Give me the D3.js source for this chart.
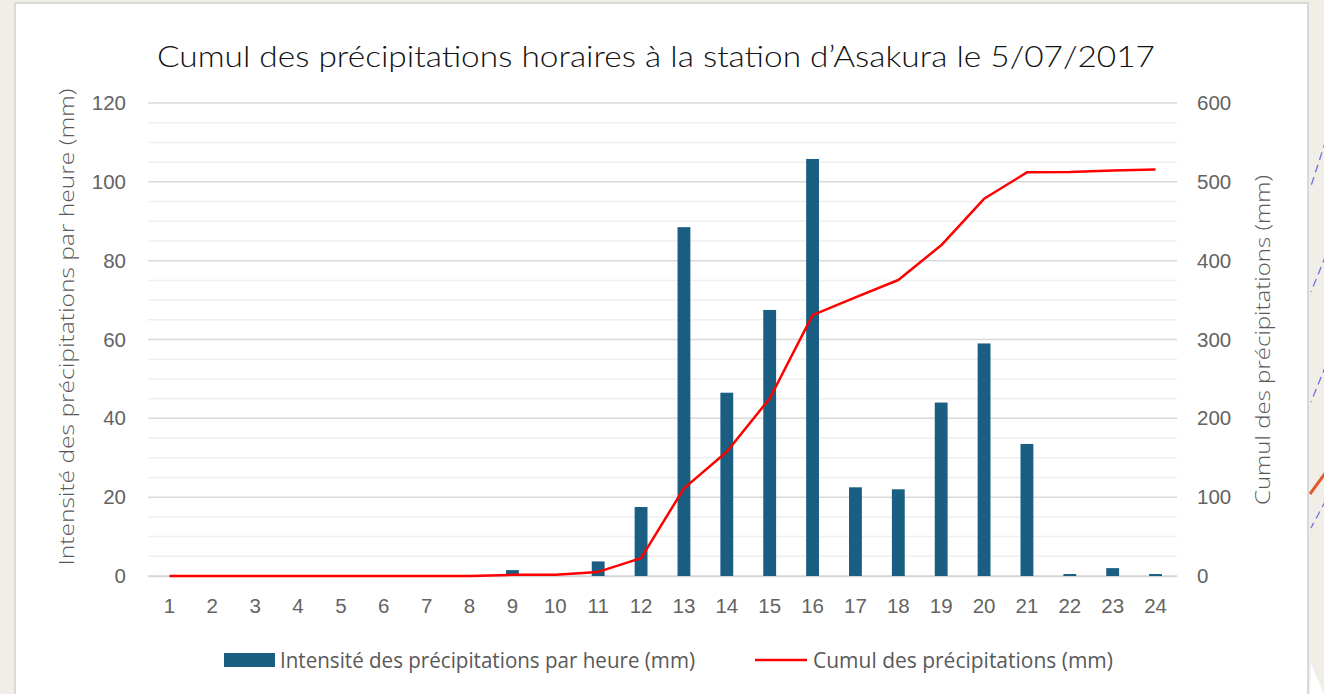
<!DOCTYPE html>
<html>
<head>
<meta charset="utf-8">
<script src="https://cdn.jsdelivr.net/npm/d3@7"></script>
<style>
  html, body { margin: 0; padding: 0; background: #f1eee8; }
  svg { display: block; }
</style>
</head>
<body>
<div id="chart"></div>
<script>
// heures de la journée
var hours = ["1","2","3","4","5","6","7","8","9","10","11","12","13","14","15","16","17","18","19","20","21","22","23","24"];
// intensité horaire (mm)
var intensity = [0,0,0,0,0,0,0,0,1.5,0,3.7,17.5,88.5,46.5,67.5,105.8,22.5,22,44,59,33.5,0.5,2,0.5];
// cumul (mm)
var cumul = [0,0,0,0,0,0,0,0,1.5,1.5,5.2,22.7,111.2,157.7,225.2,331,353.5,375.5,419.5,478.5,512,512.5,514.5,515.5];
var leftTicks = [0,20,40,60,80,100,120];
var rightTicks = [0,100,200,300,400,500,600];

var title = "Cumul des précipitations horaires à la station d’Asakura le 5/07/2017";
var leftTitle = "Intensité des précipitations par heure (mm)";
var rightTitle = "Cumul des précipitations (mm)";

var W = 1324, H = 694;
var plot = { left: 148, right: 1177, top: 103, bottom: 576 };
var grey = "#595959";
var barColor = "#1a5e81";

var svg = d3.select("#chart").append("svg")
    .attr("width", W)
    .attr("height", H);

// fond de page + décor à droite
svg.append("rect").attr("width", W).attr("height", H).attr("fill", "#f1eee8");
var decor = svg.append("g");
[[1326,140,1311,186],[1326,255,1311,292],[1326,365,1311,402],[1326,500,1311,528]].forEach(function (d) {
    decor.append("line")
        .attr("x1", d[0]).attr("y1", d[1]).attr("x2", d[2]).attr("y2", d[3])
        .attr("stroke", "#6f6fe8").attr("stroke-width", 1.3)
        .attr("stroke-dasharray", "8,5");
});
decor.append("line")
    .attr("x1", 1326).attr("y1", 472).attr("x2", 1310).attr("y2", 494)
    .attr("stroke", "#e8562a").attr("stroke-width", 3);
decor.append("path")
    .attr("d", "M1310,694 L1311,664 L1324,694 Z")
    .attr("fill", "#ffffff");

// carte blanche
svg.append("rect")
    .attr("x", 15).attr("y", 3)
    .attr("width", 1293).attr("height", 710)
    .attr("fill", "#ffffff")
    .attr("stroke", "#d9d9d9")
    .attr("stroke-width", 2);

var x = d3.scaleBand()
    .domain(hours)
    .range([plot.left, plot.right])
    .paddingInner(0.7)
    .paddingOuter(0.35);
var yL = d3.scaleLinear().domain([0, 120]).range([plot.bottom, plot.top]);
var yR = d3.scaleLinear().domain([0, 600]).range([plot.bottom, plot.top]);

// grille secondaire
svg.append("g")
    .selectAll("line")
    .data(d3.range(0, 121, 5).filter(function (v) { return v % 20 !== 0; }))
    .enter()
    .append("line")
    .attr("x1", plot.left).attr("x2", plot.right)
    .attr("y1", d => yL(d)).attr("y2", d => yL(d))
    .attr("stroke", "#efefef")
    .attr("stroke-width", 1.5);

// grille principale
svg.append("g")
    .selectAll("line")
    .data(leftTicks)
    .enter()
    .append("line")
    .attr("x1", plot.left).attr("x2", plot.right)
    .attr("y1", d => yL(d)).attr("y2", d => yL(d))
    .attr("stroke", "#d9d9d9")
    .attr("stroke-width", 1.5);

// axe gauche
var axL = svg.append("g")
    .attr("transform", "translate(" + plot.left + ",0)")
    .call(d3.axisLeft(yL).tickValues(leftTicks).tickSize(0).tickPadding(22));
axL.select(".domain").remove();
axL.selectAll("text")
    .attr("font-family", "'Liberation Sans', Arial, sans-serif")
    .attr("font-size", 20.5)
    .attr("fill", "#636363");

// axe droit
var axR = svg.append("g")
    .attr("transform", "translate(" + plot.right + ",0)")
    .call(d3.axisRight(yR).tickValues(rightTicks).tickSize(0).tickPadding(20));
axR.select(".domain").remove();
axR.selectAll("text")
    .attr("font-family", "'Liberation Sans', Arial, sans-serif")
    .attr("font-size", 20.5)
    .attr("fill", "#636363");

// axe des x
var axX = svg.append("g")
    .attr("transform", "translate(0," + plot.bottom + ")")
    .call(d3.axisBottom(x).tickSize(0).tickPadding(22));
axX.select(".domain")
    .attr("stroke", "#d9d9d9")
    .attr("stroke-width", 1.5);
axX.selectAll("text")
    .attr("font-family", "'Liberation Sans', Arial, sans-serif")
    .attr("font-size", 20.5)
    .attr("fill", "#636363");

// barres
svg.append("g")
    .selectAll("rect")
    .data(intensity)
    .enter()
    .append("rect")
    .attr("x", (d, i) => x(hours[i]))
    .attr("y", d => yL(d))
    .attr("width", x.bandwidth())
    .attr("height", d => yL(0) - yL(d))
    .attr("fill", barColor);

// courbe du cumul
var line = d3.line()
    .x((d, i) => x(hours[i]) + x.bandwidth() / 2)
    .y(d => yR(d));
svg.append("path")
    .datum(cumul)
    .attr("d", line)
    .attr("fill", "none")
    .attr("stroke", "#ff0000")
    .attr("stroke-width", 2.5)
    .attr("stroke-linejoin", "round");

// titres
svg.append("text")
    .attr("x", 656).attr("y", 67)
    .attr("text-anchor", "middle")
    .attr("font-family", "Lato, 'Open Sans', sans-serif")
    .attr("font-weight", 300)
    .attr("font-size", 29)
    .attr("fill", "#111111")
    .attr("textLength", 998)
    .attr("lengthAdjust", "spacingAndGlyphs")
    .text(title);

svg.append("text")
    .attr("transform", "translate(74,327) rotate(-90)")
    .attr("text-anchor", "middle")
    .attr("font-family", "'Open Sans', sans-serif")
    .attr("font-weight", 300)
    .attr("font-size", 20)
    .attr("fill", grey)
    .attr("textLength", 477)
    .attr("lengthAdjust", "spacingAndGlyphs")
    .text(leftTitle);

svg.append("text")
    .attr("transform", "translate(1270,340) rotate(-90)")
    .attr("text-anchor", "middle")
    .attr("font-family", "'Open Sans', sans-serif")
    .attr("font-weight", 300)
    .attr("font-size", 20)
    .attr("fill", grey)
    .attr("textLength", 330)
    .attr("lengthAdjust", "spacingAndGlyphs")
    .text(rightTitle);

// légende
var legend = svg.append("g");
legend.append("rect")
    .attr("x", 224).attr("y", 653)
    .attr("width", 51).attr("height", 14)
    .attr("fill", barColor);
legend.append("text")
    .attr("x", 280).attr("y", 668)
    .attr("font-family", "'Liberation Sans Narrow', 'Open Sans', sans-serif")
    .attr("font-size", 21)
    .attr("fill", grey)
    .attr("textLength", 415)
    .attr("lengthAdjust", "spacingAndGlyphs")
    .text(leftTitle);
legend.append("line")
    .attr("x1", 755).attr("x2", 807)
    .attr("y1", 660).attr("y2", 660)
    .attr("stroke", "#ff0000")
    .attr("stroke-width", 2.5);
legend.append("text")
    .attr("x", 813).attr("y", 668)
    .attr("font-family", "'Liberation Sans Narrow', 'Open Sans', sans-serif")
    .attr("font-size", 21)
    .attr("fill", grey)
    .attr("textLength", 300)
    .attr("lengthAdjust", "spacingAndGlyphs")
    .text(rightTitle);
</script>
</body>
</html>
